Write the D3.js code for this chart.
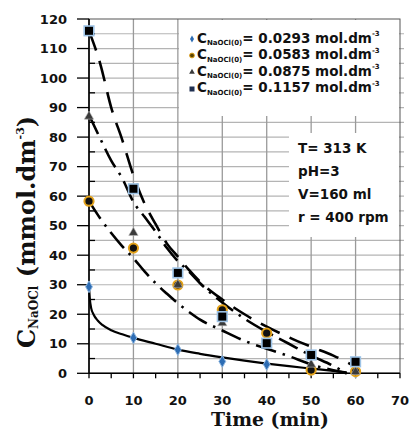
<!DOCTYPE html>
<html><head><meta charset="utf-8">
<script src="https://cdn.jsdelivr.net/npm/d3@7"></script>
<style>body{margin:0;background:#fff} svg{display:block}</style>
</head><body><svg id="c" width="412" height="430"></svg>
<script>
// ---- data ----
const timeObs = [0, 10, 20, 30, 40, 50, 60];
const s1 = [29.3, 12, 8, 4, 3, 1.2, 0.4];
const s2 = [58.3, 42.4, 29.9, 21.5, 13.6, 1.1, 0.6];
const s3 = [87, 47.6, 30, 17, 10, 3, 0.5];
const s4 = [116, 62.5, 34, 19.2, 10.2, 6.2, 3.9];

const fitT1 = [0, 0.2, 0.5, 1, 2, 3, 5, 7.5, 10, 15, 20, 25, 30, 35, 40, 45, 50, 55, 58];
const fit1  = [29.3, 25, 22, 20, 17.8, 16.4, 14.6, 13.2, 12, 10, 8, 6.6, 5.4, 4.3, 3.3, 2.4, 1.6, 0.8, 0.3];
const fitT2 = [0, 2.5, 5, 7.5, 10, 12.5, 15, 17.5, 20, 22.5, 25, 30, 35, 40, 45, 50, 55, 58];
const fit2  = [58.3, 52.5, 47.5, 43, 39, 34.5, 30.5, 27, 23.7, 20.8, 18.2, 14.5, 11, 8.3, 5.8, 3, 1, 0];
const fitT3 = [0, 2.5, 5, 7.5, 10, 12.5, 15, 17.5, 20, 22.5, 25, 30, 35, 40, 45, 50, 55, 58];
const fit3  = [87.5, 79.6, 72, 66, 58, 53, 48, 42.5, 38, 34.5, 30.5, 24, 18.5, 14, 10, 6, 2.5, 0];
const fitT4 = [0, 2.5, 5, 7.5, 10, 12.5, 15, 17.5, 20, 22.5, 25, 30, 35, 40, 45, 50, 55, 60];
const fit4  = [116, 105, 90, 79, 67, 57.5, 50.5, 44, 39.5, 35, 31, 25, 20, 15.8, 12.2, 9, 6, 2.2];

const xTicks = [0, 10, 20, 30, 40, 50, 60, 70];
const yTicks = [0, 10, 20, 30, 40, 50, 60, 70, 80, 90, 100, 110, 120];
const xMinor = [5, 15, 25, 35, 45, 55, 65];
const yMinor = [5, 15, 25, 35, 45, 55, 65, 75, 85, 95, 105, 115];

const legendLabels = ["0.0293", "0.0583", "0.0875", "0.1157"];
const infoLines = ["T= 313 K", "pH=3", "V=160 ml", "r = 400 rpm"];

// ---- drawing ----
const svg = d3.select("#c");
svg.append("rect").attr("width", 412).attr("height", 430).attr("fill", "#fff");
const x = d3.scaleLinear().domain([0, 70]).range([89, 400]);
const y = d3.scaleLinear().domain([0, 120]).range([373.3, 19]);
const sans = "'DejaVu Sans', sans-serif";
const serif = "'DejaVu Serif', serif";

// gridlines
const g = svg.append("g");
g.selectAll(".hg").data(yMinor.concat(yTicks.slice(1, -1))).enter().append("line")
  .attr("x1", x(0)).attr("x2", x(70) + 4).attr("y1", d => y(d)).attr("y2", d => y(d))
  .attr("stroke", "#b4b4b4").attr("stroke-width", 1.2);
g.selectAll(".vg").data(xTicks.slice(1, -1)).enter().append("line")
  .attr("x1", d => x(d)).attr("x2", d => x(d)).attr("y1", y(120)).attr("y2", y(0))
  .attr("stroke", "#9a9a9a").attr("stroke-width", 1.3);

// white boxes (legend & info)
svg.append("rect").attr("x", 179).attr("y", 20).attr("width", 220).attr("height", 96).attr("fill", "#fff");
svg.append("rect").attr("x", 289).attr("y", 133).attr("width", 110).attr("height", 104).attr("fill", "#fff");

// plot border
svg.append("rect").attr("x", x(0)).attr("y", y(120)).attr("width", x(70) - x(0)).attr("height", y(0) - y(120))
  .attr("fill", "none").attr("stroke", "#555").attr("stroke-width", 1);
// axes
svg.append("line").attr("x1", x(0)).attr("x2", x(0)).attr("y1", y(120)).attr("y2", y(0)).attr("stroke", "#000").attr("stroke-width", 1.6);
svg.append("line").attr("x1", x(0)).attr("x2", x(70)).attr("y1", y(0)).attr("y2", y(0)).attr("stroke", "#000").attr("stroke-width", 1.6);

// ticks
svg.selectAll(".ytk").data(yTicks).enter().append("line")
  .attr("x1", x(0) - 12).attr("x2", x(0)).attr("y1", d => y(d)).attr("y2", d => y(d)).attr("stroke", "#000").attr("stroke-width", 1.3);
svg.selectAll(".ytm").data(yMinor).enter().append("line")
  .attr("x1", x(0)).attr("x2", x(0) + 6).attr("y1", d => y(d)).attr("y2", d => y(d)).attr("stroke", "#000").attr("stroke-width", 1.3);
svg.selectAll(".xtk").data(xTicks.concat(xMinor)).enter().append("line")
  .attr("x1", d => x(d)).attr("x2", d => x(d)).attr("y1", y(0)).attr("y2", y(0) + 5).attr("stroke", "#000").attr("stroke-width", 1.3);

// tick labels
svg.selectAll(".ytl").data(yTicks).enter().append("text")
  .attr("x", 67).attr("y", d => y(d) + 4.7).attr("text-anchor", "end")
  .attr("font-family", sans).attr("font-weight", "bold").attr("font-size", 13).attr("fill", "#111")
  .text(d => d);
svg.selectAll(".xtl").data(xTicks).enter().append("text")
  .attr("x", d => x(d)).attr("y", 405).attr("text-anchor", "middle")
  .attr("font-family", sans).attr("font-weight", "bold").attr("font-size", 13).attr("fill", "#111")
  .text(d => d);

// axis titles
svg.append("text").attr("x", 270).attr("y", 426).attr("text-anchor", "middle")
  .attr("font-family", serif).attr("font-weight", "bold").attr("font-size", 18.8).attr("fill", "#111")
  .text("Time (min)");
const yt = svg.append("text").attr("transform", "translate(35,348) rotate(-90)")
  .attr("font-family", serif).attr("font-weight", "bold").attr("font-size", 24).attr("fill", "#111");
yt.append("tspan").text("C");
yt.append("tspan").attr("font-size", 12).attr("dy", 3).text("NaOCl");
yt.append("tspan").attr("dy", -3).text(" (mmol.dm");
yt.append("tspan").attr("font-size", 11).attr("dy", -11).text("-3");
yt.append("tspan").attr("dy", 11).text(")");

// fit lines
const line = d3.line().x(d => x(d[0])).y(d => y(d[1])).curve(d3.curveMonotoneX);
const zip = (a, b) => a.map((t, i) => [t, b[i]]);
svg.append("path").attr("d", line(zip(fitT1, fit1))).attr("fill", "none").attr("stroke", "#000").attr("stroke-width", 2.2);
svg.append("path").attr("d", line(zip(fitT2, fit2))).attr("fill", "none").attr("stroke", "#000").attr("stroke-width", 2.6).attr("stroke-dasharray", "21,7,2.5,7");
svg.append("path").attr("d", line(zip(fitT3, fit3))).attr("fill", "none").attr("stroke", "#000").attr("stroke-width", 2.6).attr("stroke-dasharray", "21,7,2.5,7");
svg.append("path").attr("d", line(zip(fitT4, fit4))).attr("fill", "none").attr("stroke", "#000").attr("stroke-width", 2.6).attr("stroke-dasharray", "21,11");

// markers
svg.selectAll(".m1").data(zip(timeObs, s1)).enter().append("path")
  .attr("d", d3.symbol(d3.symbolDiamond, 40)()).attr("transform", d => `translate(${x(d[0])},${y(d[1])})`)
  .attr("fill", "#2e6db4").attr("stroke", "#8fb7e0").attr("stroke-width", 1);
svg.selectAll(".m2").data(zip(timeObs, s2)).enter().append("circle")
  .attr("cx", d => x(d[0])).attr("cy", d => y(d[1])).attr("r", 4.6)
  .attr("fill", "#111").attr("stroke", "#e3a21a").attr("stroke-width", 2);
svg.selectAll(".m3").data(zip(timeObs, s3)).enter().append("path")
  .attr("d", d3.symbol(d3.symbolTriangle, 38)()).attr("transform", d => `translate(${x(d[0])},${y(d[1])})`)
  .attr("fill", "#3a3a3a").attr("stroke", "#bbb").attr("stroke-width", 0.6);
svg.selectAll(".m4").data(zip(timeObs, s4)).enter().append("rect")
  .attr("x", d => x(d[0]) - 4.8).attr("y", d => y(d[1]) - 4.8).attr("width", 9.6).attr("height", 9.6)
  .attr("fill", "#000").attr("stroke", "#9dc3e6").attr("stroke-width", 1.6);

// legend
const rowsY = [38, 54.5, 71, 87.5];
const lg = svg.append("g");
lg.append("path").attr("d", d3.symbol(d3.symbolDiamond, 14)()).attr("transform", `translate(192,${rowsY[0] + 1})`).attr("fill", "#2e6db4");
lg.append("circle").attr("cx", 192).attr("cy", rowsY[1] + 1).attr("r", 2.4).attr("fill", "#5a4300").attr("stroke", "#e3a21a").attr("stroke-width", 1);
lg.append("path").attr("d", d3.symbol(d3.symbolTriangle, 14)()).attr("transform", `translate(192,${rowsY[2] + 1})`).attr("fill", "#3a3a3a");
lg.append("rect").attr("x", 189.5).attr("y", rowsY[3] - 1).attr("width", 5).attr("height", 5).attr("fill", "#1f2f50");
legendLabels.forEach((v, i) => {
  const t = lg.append("text").attr("x", 197).attr("y", rowsY[i] + 4.8)
    .attr("font-family", sans).attr("font-weight", "bold").attr("font-size", 13.5).attr("fill", "#111");
  t.append("tspan").text("C");
  t.append("tspan").attr("font-size", 7).attr("dy", 2.5).text("NaOCl(0)");
  t.append("tspan").attr("dy", -2.5).text("= " + v + " mol.dm");
  t.append("tspan").attr("font-size", 7).attr("dy", -6.5).text("-3");
});

// info box text
const infoY = [153, 176, 199, 222];
infoLines.forEach((s, i) => {
  svg.append("text").attr("x", 298).attr("y", infoY[i])
    .attr("font-family", sans).attr("font-weight", "bold").attr("font-size", 13.5).attr("fill", "#111")
    .text(s);
});
</script></body></html>
